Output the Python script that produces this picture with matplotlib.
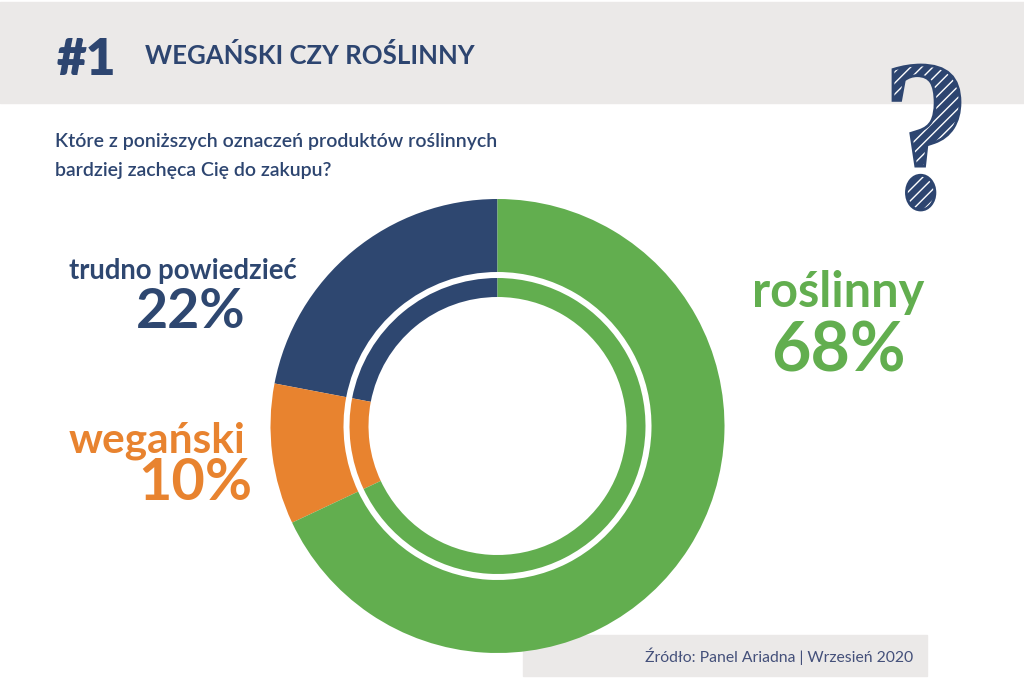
import matplotlib.pyplot as plt
from matplotlib.patches import Rectangle, PathPatch
from matplotlib.textpath import TextPath
from matplotlib.font_manager import FontProperties, findfont
from matplotlib.transforms import Affine2D

# data
labels = ["trudno powiedzieć", "wegański", "roślinny"]
values = [22, 10, 68]
pct_labels = ["22%", "10%", "68%"]
colors = ["#2e4770", "#e8832f", "#62ae4f"]

title_num = "#1"
title = "WEGAŃSKI CZY ROŚLINNY"
question = ["Które z poniższych oznaczeń produktów roślinnych",
            "bardziej zachęca Cię do zakupu?"]
source = "Źródło: Panel Ariadna | Wrzesień 2020"

W, H = 1024, 700
NAVY = "#2d4570"
GRAY = "#ebe9e8"

# pick a family that really has a bold face
FONT = "DejaVu Sans"
for fam in ["Lato", "Open Sans", "Roboto", "Noto Sans", "Liberation Sans"]:
    path = findfont(FontProperties(family=fam, weight="bold"), fallback_to_default=False)
    if "bold" in path.lower() or "black" in path.lower():
        FONT = fam
        break

fig = plt.figure(figsize=(W / 100, H / 100), dpi=100)
ax = fig.add_axes([0, 0, 1, 1])


def Y(y):
    # pixel row from top -> data y
    return H - y


# header band
ax.add_patch(Rectangle((0, Y(103)), W, 101, color=GRAY, zorder=0))
ax.text(57, Y(75), title_num, fontsize=37, fontweight="heavy", color=NAVY,
        family=FONT, va="baseline")
ax.text(145, Y(64), title, fontsize=18.5, fontweight="bold", color=NAVY,
        family=FONT, va="baseline")

# question mark, hatched
fp = FontProperties(family="Liberation Serif", weight="bold")
qp = TextPath((0, 0), "?", size=100, prop=fp)
ext = qp.get_extents()
sx = 67 / ext.width
sy = 145 / ext.height
tr = Affine2D().translate(-ext.x0, -ext.y0).scale(sx, sy).translate(893, Y(210))
qp = tr.transform_path(qp)
ax.add_patch(PathPatch(qp, facecolor=NAVY, edgecolor="none", zorder=3))
plt.rcParams["hatch.linewidth"] = 1.0
ax.add_patch(PathPatch(qp, facecolor="none", edgecolor="white", hatch="///",
                       lw=0, zorder=4))
ax.add_patch(PathPatch(qp, facecolor="none", edgecolor=NAVY, lw=2, zorder=5))

# question
for i, line in enumerate(question):
    ax.text(55, Y(147 + 29 * i), line, fontsize=14, fontweight="semibold",
            color=NAVY, family=FONT, va="baseline")

# donut
cx, cy = 497.5, Y(426)
ax.pie(values, colors=colors, startangle=90, counterclock=True,
       center=(cx, cy), radius=227,
       wedgeprops=dict(width=73, linewidth=0))
ax.pie(values, colors=colors, startangle=90, counterclock=True,
       center=(cx, cy), radius=148,
       wedgeprops=dict(width=19, linewidth=0))

# labels
ax.text(183, Y(279), labels[0], fontsize=19.8, fontweight="bold", color=colors[0],
        family=FONT, ha="center", va="baseline")
ax.text(191, Y(328), pct_labels[0], fontsize=40, fontweight="bold", color=colors[0],
        family=FONT, ha="center", va="baseline")
ax.text(157, Y(453), labels[1], fontsize=30.5, fontweight="bold", color=colors[1],
        family=FONT, ha="center", va="baseline")
ax.text(195, Y(500), pct_labels[1], fontsize=41.5, fontweight="bold", color=colors[1],
        family=FONT, ha="center", va="baseline")
ax.text(838, Y(307), labels[2], fontsize=35, fontweight="bold", color=colors[2],
        family=FONT, ha="center", va="baseline")
ax.text(838, Y(372), pct_labels[2], fontsize=49, fontweight="bold", color=colors[2],
        family=FONT, ha="center", va="baseline")

# source box
ax.add_patch(Rectangle((523, Y(676)), 404, 41, color=GRAY, zorder=0))
ax.text(913, Y(662), source, fontsize=11.3, color="#44507a", family=FONT,
        ha="right", va="baseline")

ax.set_xlim(0, W)
ax.set_ylim(0, H)
ax.set_aspect("equal")
ax.axis("off")

fig.savefig("out.png", dpi=100)
